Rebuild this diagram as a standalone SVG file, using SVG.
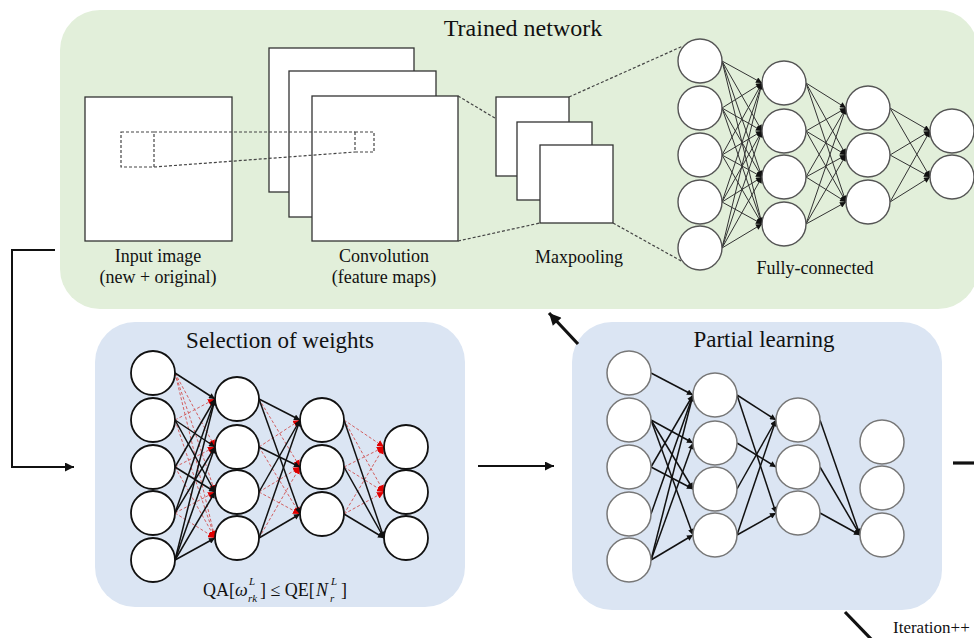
<svg xmlns="http://www.w3.org/2000/svg" width="974" height="638" viewBox="0 0 974 638">
<style>
.t{font-family:"Liberation Serif","Times New Roman",serif;fill:#111}
.green{fill:#e2efda}
.blue{fill:#dbe5f3}
.box{fill:#fff;stroke:#333;stroke-width:1.3}
.dash{fill:none;stroke:#444;stroke-width:1.2;stroke-dasharray:3,2}
.fcn{fill:#fff;stroke:#555;stroke-width:1.4}
.sn{fill:#fff;stroke:#111;stroke-width:1.8}
.pn{fill:#fff;stroke:#777;stroke-width:1.5}
.fe{stroke:#333;stroke-width:1;marker-end:url(#ah)}
.be{stroke:#111;stroke-width:1.5;marker-end:url(#ah)}
.re{stroke:#d05050;stroke-width:0.9;stroke-dasharray:3,2;marker-end:url(#ahr)}
.flow{fill:none;stroke:#111;stroke-width:2}
.thick{fill:none;stroke:#111;stroke-width:3.2}
</style>
<defs>
<marker id="ah" viewBox="0 0 10 10" refX="10" refY="5" markerWidth="7" markerHeight="6" markerUnits="userSpaceOnUse" orient="auto"><path d="M0,0 L10,5 L0,10 z" fill="#111"/></marker>
<marker id="ahr" viewBox="0 0 10 10" refX="10" refY="5" markerWidth="7" markerHeight="7" markerUnits="userSpaceOnUse" orient="auto"><path d="M0,0 L10,5 L0,10 z" fill="#e00000"/></marker>
<marker id="big" viewBox="0 0 10 10" refX="10" refY="5" markerWidth="11" markerHeight="9" markerUnits="userSpaceOnUse" orient="auto"><path d="M0,0 L10,5 L0,10 z" fill="#111"/></marker>
<marker id="big2" viewBox="0 0 10 10" refX="10" refY="5" markerWidth="14" markerHeight="12" markerUnits="userSpaceOnUse" orient="auto"><path d="M0,0 L10,5 L0,10 z" fill="#111"/></marker>
</defs>

<g id="trained-network">
<rect class="green" x="60" y="10" width="918" height="299" rx="40"/>
<text class="t" x="523" y="36" font-size="24" text-anchor="middle">Trained network</text>
<g id="input-image">
<rect class="box" x="85" y="97" width="147" height="144"/>
<rect class="dash" x="121" y="132" width="33" height="35"/>
<text class="t" x="158" y="262" font-size="18" text-anchor="middle">Input image</text>
<text class="t" x="158" y="283" font-size="18" text-anchor="middle">(new + original)</text>
</g>
<g id="convolution">
<rect class="box" x="269" y="48" width="145" height="144"/>
<rect class="box" x="289" y="71" width="147" height="146"/>
<rect class="box" x="312" y="96" width="146" height="145"/>
<rect class="dash" x="355" y="132" width="19" height="20"/>
<text class="t" x="384" y="262" font-size="18" text-anchor="middle">Convolution</text>
<text class="t" x="384" y="283" font-size="18" text-anchor="middle">(feature maps)</text>
</g>
<line class="dash" x1="154" y1="132" x2="355" y2="132"/>
<line class="dash" x1="154" y1="167" x2="355" y2="152"/>
<line class="dash" x1="458" y1="96" x2="540" y2="145"/>
<line class="dash" x1="458" y1="241" x2="540" y2="223"/>
<g id="maxpooling">
<rect class="box" x="496" y="97" width="73" height="79"/>
<rect class="box" x="517" y="122" width="75" height="78"/>
<rect class="box" x="540" y="145" width="73" height="78"/>
<text class="t" x="579" y="263" font-size="18" text-anchor="middle">Maxpooling</text>
</g>
<line class="dash" x1="569" y1="97" x2="683" y2="46"/>
<line class="dash" x1="613" y1="223" x2="683" y2="262"/>
<g id="fully-connected">
<g>
<line class="fe" x1="722" y1="61" x2="762" y2="83"/><line class="fe" x1="722" y1="61" x2="762" y2="131"/><line class="fe" x1="722" y1="61" x2="762" y2="177"/><line class="fe" x1="722" y1="61" x2="762" y2="224"/>
<line class="fe" x1="722" y1="108" x2="762" y2="83"/><line class="fe" x1="722" y1="108" x2="762" y2="131"/><line class="fe" x1="722" y1="108" x2="762" y2="177"/><line class="fe" x1="722" y1="108" x2="762" y2="224"/>
<line class="fe" x1="722" y1="155" x2="762" y2="83"/><line class="fe" x1="722" y1="155" x2="762" y2="131"/><line class="fe" x1="722" y1="155" x2="762" y2="177"/><line class="fe" x1="722" y1="155" x2="762" y2="224"/>
<line class="fe" x1="722" y1="202" x2="762" y2="83"/><line class="fe" x1="722" y1="202" x2="762" y2="131"/><line class="fe" x1="722" y1="202" x2="762" y2="177"/><line class="fe" x1="722" y1="202" x2="762" y2="224"/>
<line class="fe" x1="722" y1="248" x2="762" y2="83"/><line class="fe" x1="722" y1="248" x2="762" y2="131"/><line class="fe" x1="722" y1="248" x2="762" y2="177"/><line class="fe" x1="722" y1="248" x2="762" y2="224"/>
<line class="fe" x1="806" y1="83" x2="846" y2="108"/><line class="fe" x1="806" y1="83" x2="846" y2="155"/><line class="fe" x1="806" y1="83" x2="846" y2="202"/>
<line class="fe" x1="806" y1="131" x2="846" y2="108"/><line class="fe" x1="806" y1="131" x2="846" y2="155"/><line class="fe" x1="806" y1="131" x2="846" y2="202"/>
<line class="fe" x1="806" y1="177" x2="846" y2="108"/><line class="fe" x1="806" y1="177" x2="846" y2="155"/><line class="fe" x1="806" y1="177" x2="846" y2="202"/>
<line class="fe" x1="806" y1="224" x2="846" y2="108"/><line class="fe" x1="806" y1="224" x2="846" y2="155"/><line class="fe" x1="806" y1="224" x2="846" y2="202"/>
<line class="fe" x1="890" y1="108" x2="930" y2="131"/><line class="fe" x1="890" y1="108" x2="930" y2="177"/>
<line class="fe" x1="890" y1="155" x2="930" y2="131"/><line class="fe" x1="890" y1="155" x2="930" y2="177"/>
<line class="fe" x1="890" y1="202" x2="930" y2="131"/><line class="fe" x1="890" y1="202" x2="930" y2="177"/>
</g>
<circle class="fcn" cx="700" cy="61" r="22"/><circle class="fcn" cx="700" cy="108" r="22"/><circle class="fcn" cx="700" cy="155" r="22"/><circle class="fcn" cx="700" cy="202" r="22"/><circle class="fcn" cx="700" cy="248" r="22"/>
<circle class="fcn" cx="784" cy="83" r="22"/><circle class="fcn" cx="784" cy="131" r="22"/><circle class="fcn" cx="784" cy="177" r="22"/><circle class="fcn" cx="784" cy="224" r="22"/>
<circle class="fcn" cx="868" cy="108" r="22"/><circle class="fcn" cx="868" cy="155" r="22"/><circle class="fcn" cx="868" cy="202" r="22"/>
<circle class="fcn" cx="952" cy="131" r="22"/><circle class="fcn" cx="952" cy="177" r="22"/>
<text class="t" x="815" y="274" font-size="18" text-anchor="middle">Fully-connected</text>
</g>
</g>

<g id="selection-of-weights">
<rect class="blue" x="95" y="322" width="370" height="285" rx="40"/>
<text class="t" x="280" y="348" font-size="23" text-anchor="middle">Selection of weights</text>
<g>
<line class="re" x1="175" y1="373" x2="215" y2="447"/><line class="re" x1="175" y1="373" x2="215" y2="492"/><line class="re" x1="175" y1="373" x2="215" y2="538"/>
<line class="re" x1="175" y1="420" x2="215" y2="399"/><line class="re" x1="175" y1="420" x2="215" y2="538"/>
<line class="re" x1="175" y1="467" x2="215" y2="447"/><line class="re" x1="175" y1="467" x2="215" y2="538"/>
<line class="re" x1="175" y1="513" x2="215" y2="492"/><line class="re" x1="175" y1="513" x2="215" y2="538"/>
<line class="re" x1="259" y1="399" x2="300" y2="467"/><line class="re" x1="259" y1="447" x2="300" y2="420"/><line class="re" x1="259" y1="447" x2="300" y2="514"/>
<line class="re" x1="259" y1="492" x2="300" y2="467"/><line class="re" x1="259" y1="492" x2="300" y2="514"/><line class="re" x1="259" y1="538" x2="300" y2="467"/>
<line class="re" x1="344" y1="420" x2="384" y2="447"/><line class="re" x1="344" y1="420" x2="384" y2="492"/>
<line class="re" x1="344" y1="467" x2="384" y2="447"/><line class="re" x1="344" y1="467" x2="384" y2="492"/>
<line class="re" x1="344" y1="514" x2="384" y2="447"/><line class="re" x1="344" y1="514" x2="384" y2="492"/>
<line class="be" x1="175" y1="373" x2="215" y2="399"/>
<line class="be" x1="175" y1="420" x2="215" y2="447"/><line class="be" x1="175" y1="420" x2="215" y2="492"/>
<line class="be" x1="175" y1="467" x2="215" y2="399"/><line class="be" x1="175" y1="467" x2="215" y2="492"/>
<line class="be" x1="175" y1="513" x2="215" y2="399"/><line class="be" x1="175" y1="513" x2="215" y2="447"/>
<line class="be" x1="175" y1="560" x2="215" y2="399"/><line class="be" x1="175" y1="560" x2="215" y2="447"/><line class="be" x1="175" y1="560" x2="215" y2="492"/><line class="be" x1="175" y1="560" x2="215" y2="538"/>
<line class="be" x1="259" y1="399" x2="300" y2="420"/><line class="be" x1="259" y1="399" x2="300" y2="514"/>
<line class="be" x1="259" y1="447" x2="300" y2="467"/>
<line class="be" x1="259" y1="492" x2="300" y2="420"/>
<line class="be" x1="259" y1="538" x2="300" y2="420"/><line class="be" x1="259" y1="538" x2="300" y2="514"/>
<line class="be" x1="344" y1="420" x2="384" y2="538"/><line class="be" x1="344" y1="467" x2="384" y2="538"/><line class="be" x1="344" y1="514" x2="384" y2="538"/>
</g>
<circle class="sn" cx="153" cy="373" r="22"/><circle class="sn" cx="153" cy="420" r="22"/><circle class="sn" cx="153" cy="467" r="22"/><circle class="sn" cx="153" cy="513" r="22"/><circle class="sn" cx="153" cy="560" r="22"/>
<circle class="sn" cx="237" cy="399" r="22"/><circle class="sn" cx="237" cy="447" r="22"/><circle class="sn" cx="237" cy="492" r="22"/><circle class="sn" cx="237" cy="538" r="22"/>
<circle class="sn" cx="322" cy="420" r="22"/><circle class="sn" cx="322" cy="467" r="22"/><circle class="sn" cx="322" cy="514" r="22"/>
<circle class="sn" cx="406" cy="447" r="22"/><circle class="sn" cx="406" cy="492" r="22"/><circle class="sn" cx="406" cy="538" r="22"/>
<g id="formula">
<text class="t" font-size="18" x="203" y="596">QA[</text>
<text class="t" font-size="18" font-style="italic" x="235" y="596">ω</text>
<text class="t" font-size="11" font-style="italic" x="249" y="585">L</text>
<text class="t" font-size="11" font-style="italic" x="248" y="602">rk</text>
<text class="t" font-size="18" x="260" y="596">] ≤ QE[</text>
<text class="t" font-size="18" font-style="italic" x="316" y="596">N</text>
<text class="t" font-size="11" font-style="italic" x="331" y="585">L</text>
<text class="t" font-size="11" font-style="italic" x="330" y="602">r</text>
<text class="t" font-size="18" x="341" y="596">]</text>
</g>
</g>

<g id="partial-learning">
<rect class="blue" x="572" y="322" width="370" height="288" rx="40"/>
<text class="t" x="764" y="347" font-size="23" text-anchor="middle">Partial learning</text>
<g>
<line class="be" x1="651" y1="373" x2="693" y2="395"/>
<line class="be" x1="651" y1="420" x2="693" y2="443"/><line class="be" x1="651" y1="420" x2="693" y2="489"/><line class="be" x1="651" y1="420" x2="693" y2="535"/>
<line class="be" x1="651" y1="467" x2="693" y2="395"/><line class="be" x1="651" y1="467" x2="693" y2="489"/>
<line class="be" x1="651" y1="514" x2="693" y2="395"/>
<line class="be" x1="651" y1="560" x2="693" y2="395"/><line class="be" x1="651" y1="560" x2="693" y2="443"/><line class="be" x1="651" y1="560" x2="693" y2="535"/>
<line class="be" x1="737" y1="395" x2="776" y2="420"/><line class="be" x1="737" y1="395" x2="776" y2="513"/>
<line class="be" x1="737" y1="443" x2="776" y2="467"/>
<line class="be" x1="737" y1="489" x2="776" y2="420"/>
<line class="be" x1="737" y1="535" x2="776" y2="420"/><line class="be" x1="737" y1="535" x2="776" y2="513"/>
<line class="be" x1="820" y1="420" x2="860" y2="535"/><line class="be" x1="820" y1="467" x2="860" y2="535"/><line class="be" x1="820" y1="513" x2="860" y2="535"/>
</g>
<circle class="pn" cx="629" cy="373" r="22"/><circle class="pn" cx="629" cy="420" r="22"/><circle class="pn" cx="629" cy="467" r="22"/><circle class="pn" cx="629" cy="514" r="22"/><circle class="pn" cx="629" cy="560" r="22"/>
<circle class="pn" cx="715" cy="395" r="22"/><circle class="pn" cx="715" cy="443" r="22"/><circle class="pn" cx="715" cy="489" r="22"/><circle class="pn" cx="715" cy="535" r="22"/>
<circle class="pn" cx="798" cy="420" r="22"/><circle class="pn" cx="798" cy="467" r="22"/><circle class="pn" cx="798" cy="513" r="22"/>
<circle class="pn" cx="882" cy="442" r="22"/><circle class="pn" cx="882" cy="488" r="22"/><circle class="pn" cx="882" cy="535" r="22"/>
</g>

<g id="connectors">
<polyline class="flow" points="55,250 12,250 12,467 74,467" marker-end="url(#big)"/>
<line class="flow" x1="478" y1="466" x2="554" y2="466" marker-end="url(#big)"/>
<line class="thick" x1="578" y1="344" x2="549" y2="313" marker-end="url(#big2)"/>
<line class="thick" x1="953" y1="463" x2="976" y2="463"/>
<line class="thick" x1="845" y1="612" x2="872" y2="640"/>
<text class="t" x="893" y="633" font-size="17">Iteration++</text>
</g>
</svg>
